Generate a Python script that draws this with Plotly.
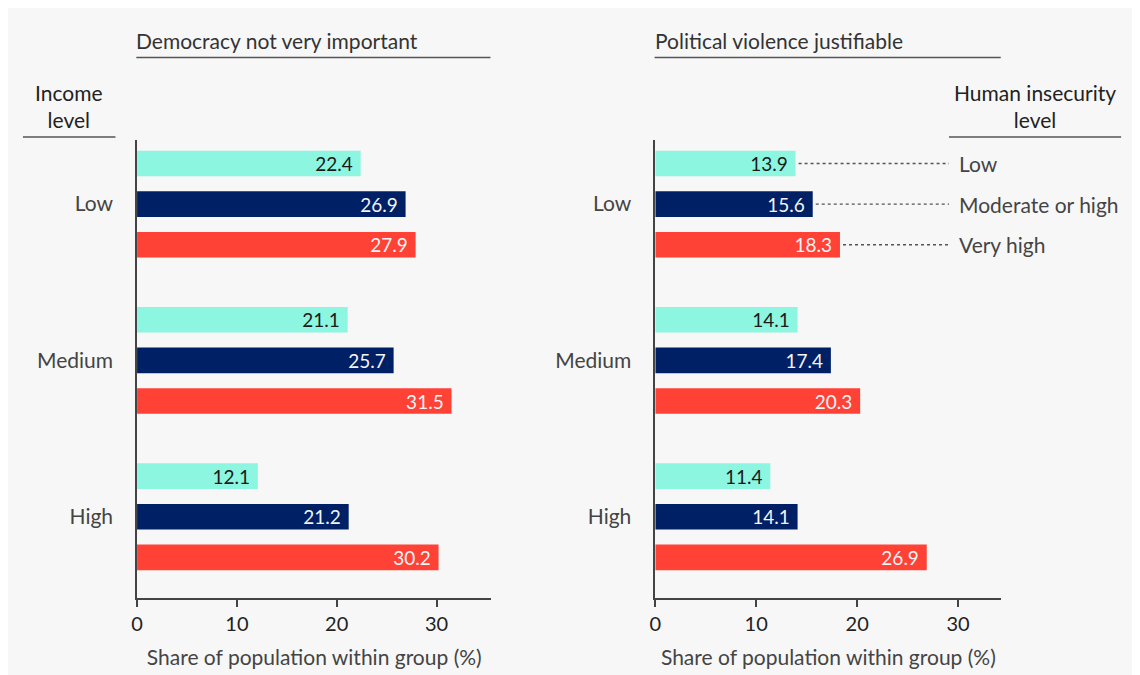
import plotly.graph_objects as go

# The page has an 8px body margin; the figure fills the rest of the window.
OFF = 8
W, H = 1140 - OFF, 675 - OFF

income_levels = ["Low", "Medium", "High"]
insecurity_levels = ["Low", "Moderate or high", "Very high"]
democracy_not_important = {
    "Low": [22.4, 21.1, 12.1],
    "Moderate or high": [26.9, 25.7, 21.2],
    "Very high": [27.9, 31.5, 30.2],
}
violence_justifiable = {
    "Low": [13.9, 14.1, 11.4],
    "Moderate or high": [15.6, 17.4, 14.1],
    "Very high": [18.3, 20.3, 26.9],
}
bar_colors = ["#8cf6e1", "#002066", "#ff4136"]
label_colors = ["#1a1a1a", "#f4f4f4", "#f4f4f4"]
panel_titles = ["Democracy not very important", "Political violence justifiable"]
x_title = "Share of population within group (%)"
tick_vals = [0, 10, 20, 30]

FONT = "Lato"
TXT = "#333333"
BG = "#f7f7f7"
BARGAP = 0.22


def px(x):
    return (x - OFF) / W


def py(y):
    return 1 - (y - OFF) / H


fig = go.Figure()
for panel, (data, xa, ya) in enumerate([(democracy_not_important, "x", "y"),
                                        (violence_justifiable, "x2", "y2")]):
    for i, lvl in enumerate(insecurity_levels):
        vals = data[lvl]
        fig.add_trace(go.Bar(
            y=income_levels, x=vals, orientation="h",
            xaxis=xa, yaxis=ya,
            marker=dict(color=bar_colors[i], line=dict(width=0)),
            text=[f"{v:.1f}\u00a0" for v in vals],
            textposition="inside", insidetextanchor="end",
            textfont=dict(family=FONT, size=19, color=label_colors[i]),
            showlegend=False, hoverinfo="skip",
        ))

axis_common = dict(
    showgrid=False, zeroline=False, showline=True, linecolor="#444444", linewidth=1.5,
    ticks="outside", ticklen=7, tickcolor="#444444", tickwidth=1.5,
    tickvals=tick_vals, tickfont=dict(family=FONT, size=20, color="#222222"),
    title=dict(text=x_title, font=dict(family=FONT, size=21, color="#444444"), standoff=17),
    fixedrange=True,
)
yaxis_common = dict(
    showgrid=False, zeroline=False, showline=True, linecolor="#444444", linewidth=1.5,
    ticks="", tickfont=dict(family=FONT, size=21, color="#444444"),
    range=[2.52, -0.41], ticklabelstandoff=18, fixedrange=True,
)

fig.update_layout(
    width=W, height=H,
    margin=dict(l=0, r=0, t=0, b=0),
    paper_bgcolor=BG, plot_bgcolor="rgba(0,0,0,0)",
    barmode="group", bargap=BARGAP, bargroupgap=0.37,
    xaxis=dict(domain=[px(131.7), px(488)], range=[0, 35.5], anchor="y", **axis_common),
    yaxis=dict(domain=[py(598), py(140)], anchor="x", **yaxis_common),
    xaxis2=dict(domain=[px(652.7), px(1000.7)], range=[0, 34.3], anchor="y2", **axis_common),
    yaxis2=dict(domain=[py(598), py(140)], anchor="x2", **yaxis_common),
    uniformtext=dict(minsize=19, mode="show"),
)

line_style = dict(color="#555555", width=1.5)
shapes = [
    dict(type="line", xref="paper", yref="paper", x0=px(131), x1=px(487), y0=py(57.5), y1=py(57.5),
         line=line_style),
    dict(type="line", xref="paper", yref="paper", x0=px(652), x1=px(1000), y0=py(57.5), y1=py(57.5),
         line=line_style),
    dict(type="line", xref="paper", yref="paper", x0=px(17), x1=px(110), y0=py(137), y1=py(137),
         line=line_style),
    dict(type="line", xref="paper", yref="paper", x0=px(948), x1=px(1121), y0=py(137), y1=py(137),
         line=line_style),
]

annotations = [
    dict(text=panel_titles[0], xref="paper", yref="paper", x=px(129), y=py(40),
         xanchor="left", yanchor="middle", showarrow=False,
         font=dict(family=FONT, size=21, color=TXT)),
    dict(text=panel_titles[1], xref="paper", yref="paper", x=px(650), y=py(40),
         xanchor="left", yanchor="middle", showarrow=False,
         font=dict(family=FONT, size=21, color=TXT)),
    dict(text="Income<br>level", xref="paper", yref="paper", x=px(63.5), y=py(106),
         xanchor="center", yanchor="middle", showarrow=False,
         font=dict(family=FONT, size=21, color="#222222")),
    dict(text="Human insecurity<br>level", xref="paper", yref="paper", x=px(1034.5), y=py(106),
         xanchor="center", yanchor="middle", showarrow=False,
         font=dict(family=FONT, size=21, color="#222222")),
]

# legend connectors for the first (Low income) group in the right panel
slot = (1 - BARGAP) / len(insecurity_levels)
legend_x_px = 948
legend_x_data = (legend_x_px - 652.7) / ((1000.7 - 652.7) / 34.3)
for i, lvl in enumerate(insecurity_levels):
    yc = (i - (len(insecurity_levels) - 1) / 2) * slot
    v = violence_justifiable[lvl][0]
    shapes.append(dict(type="line", xref="x2", yref="y2", x0=v + 0.3, x1=legend_x_data,
                       y0=yc, y1=yc, line=dict(color="#555555", width=1.4, dash="dot")))
    annotations.append(dict(text=lvl, xref="paper", yref="y2", x=px(956), y=yc,
                            xanchor="left", yanchor="middle", showarrow=False,
                            font=dict(family=FONT, size=21, color="#444444")))

fig.update_layout(shapes=shapes, annotations=annotations)
fig.write_html("out.html")
